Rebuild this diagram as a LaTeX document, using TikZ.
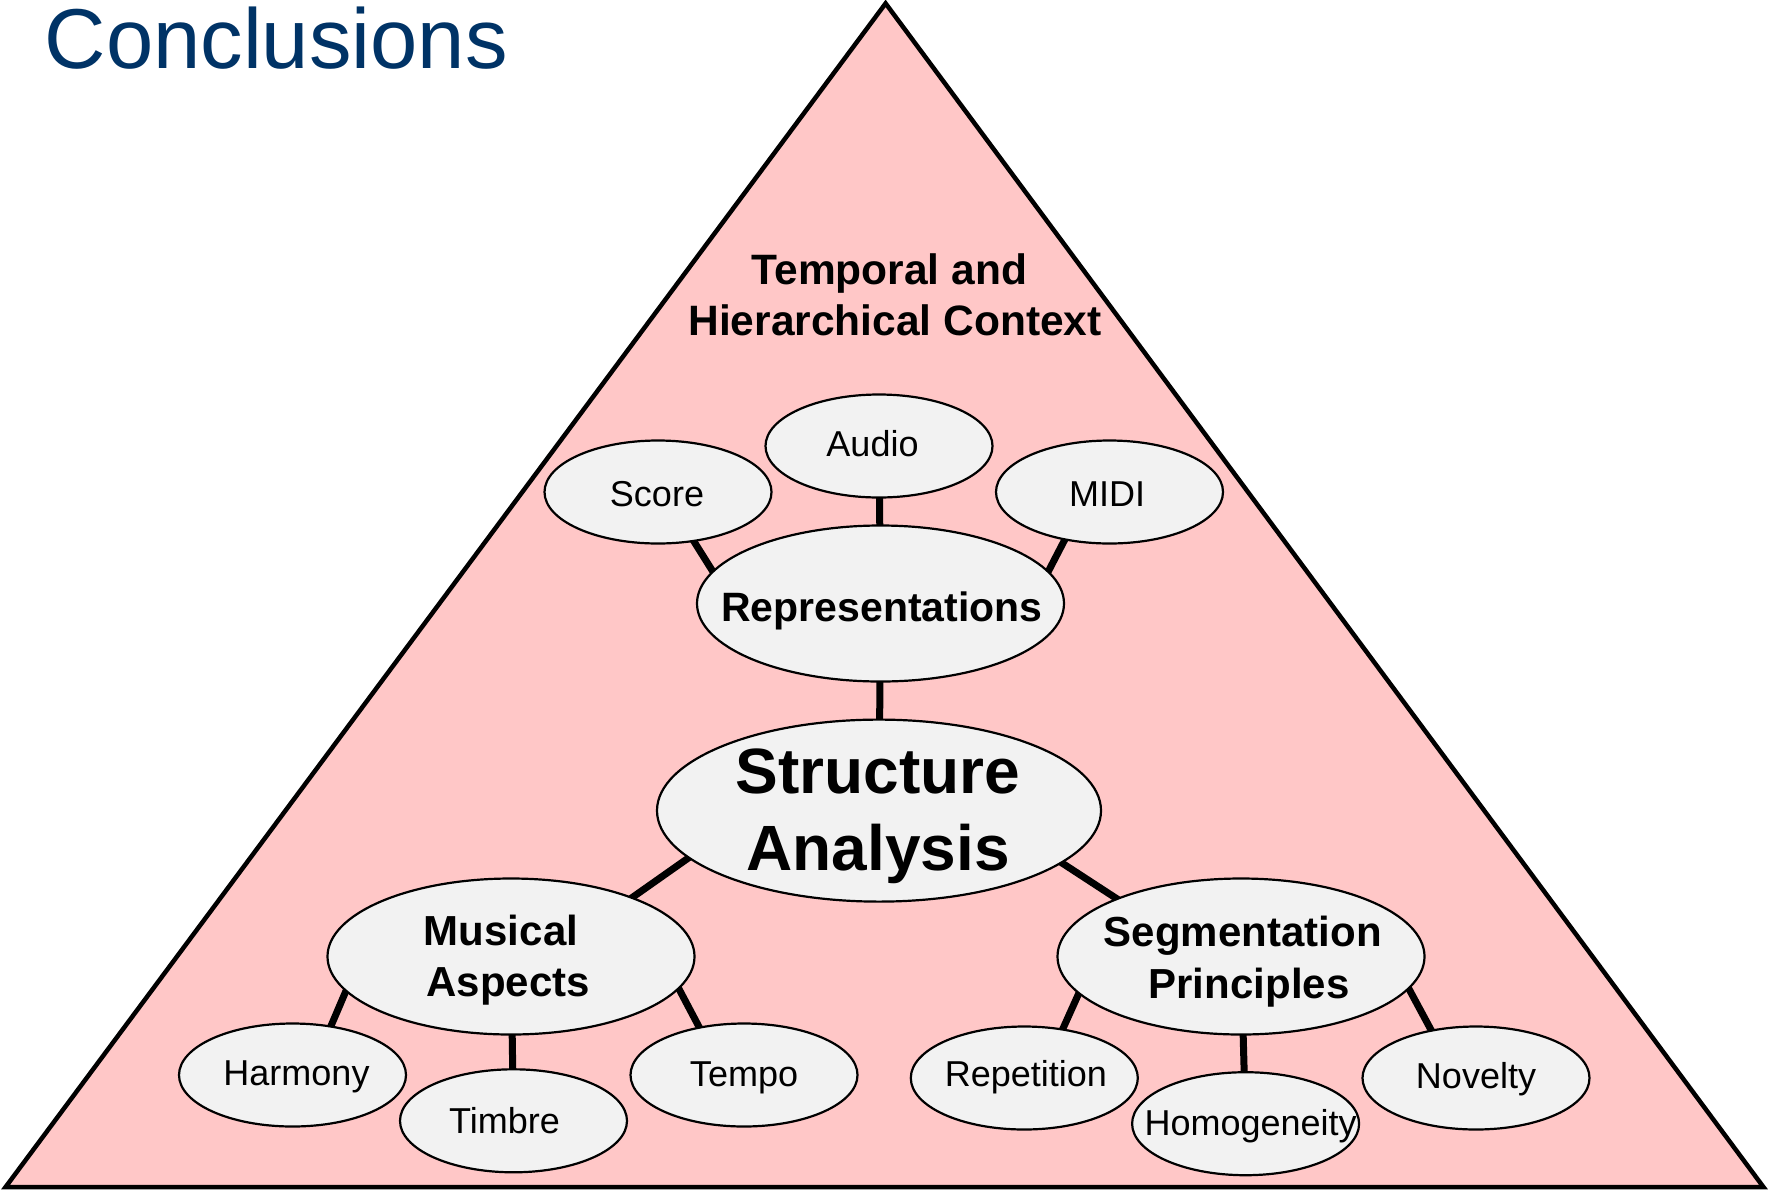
\documentclass[tikz,border=0pt]{standalone}
\usepackage{fontspec}
\setmainfont{Liberation Sans}
\usetikzlibrary{shapes.geometric}
\pgfdeclarelayer{bg}
\pgfdeclarelayer{lines}
\pgfsetlayers{bg,lines,main}
\definecolor{pinkfill}{RGB}{255,199,199}
\definecolor{ellfill}{RGB}{242,242,242}
\definecolor{titleblue}{RGB}{0,51,102}
\newcommand\shx[3]{\makebox[0pt]{\kern#1\relax\raisebox{#2}{#3}\kern-#1\relax}}
\begin{document}
\begin{tikzpicture}[x=1pt,y=-1pt,
  ell/.style={ellipse, draw=black, line width=2.2pt, fill=ellfill, inner sep=0pt},
  smallell/.style={ell, minimum width=227pt, minimum height=103pt,
    font=\fontsize{36}{41}\selectfont, text height=25.8pt, text depth=5.4pt},
  midell/.style={ell, minimum width=367pt, minimum height=156pt},
  bigell/.style={ell, minimum width=444pt, minimum height=182pt},
  boldtxt/.style={inner sep=0pt, align=center},
  link/.style={line width=7pt, shorten <=-4pt, shorten >=-4pt},
]
\useasboundingbox (0,0) rectangle (1769,1192);

\begin{pgfonlayer}{bg}
\fill[white] (0,0) rectangle (1769,1192);
\draw[line width=4.5pt, fill=pinkfill, line join=miter]
  (885.6,3.4) -- (5.6,1187) -- (1763.4,1187) -- cycle;
\end{pgfonlayer}

\node[anchor=base west, inner sep=0pt, text=titleblue,
  font=\fontsize{85}{100}\selectfont] (title) at (44.5,68) {Conclusions};

\node[boldtxt, font=\bfseries\fontsize{42.5}{50.5}\selectfont] (ctx) at (891,294.8)
  {Temporal and\kern3.4pt\\\kern8pt Hierarchical Context};

\node[smallell] (audio) at (879,446) {\shx{-6.5pt}{0pt}{Audio}};
\node[smallell] (score) at (658,492) {\shx{-1pt}{-4.5pt}{Score}};
\node[smallell] (midi) at (1109.5,492) {\shx{-2.5pt}{-4.5pt}{MIDI}};
\node[midell, font=\bfseries\fontsize{41}{47}\selectfont, text height=29.4pt, text depth=0pt]
  (rep) at (880.5,603.5) {\shx{1.5pt}{-3.4pt}{Representations}};
\node[bigell] (sa) at (879,810.6) {};
\node[midell] (ma) at (511,956.5) {};
\node[midell] (sp) at (1241,956.5) {};
\node[smallell] (harmony) at (292.5,1075) {\shx{4pt}{0pt}{Harmony}};
\node[smallell] (timbre) at (513.5,1120.8) {\shx{-9pt}{-2pt}{Timbre}};
\node[smallell] (tempo) at (744,1075) {\shx{0pt}{-1pt}{Tempo}};
\node[smallell] (rept) at (1024.3,1078) {\shx{1.5pt}{2pt}{Repetition}};
\node[smallell] (homog) at (1245.6,1123.7) {\shx{5pt}{-2pt}{Homogeneity}};
\node[smallell] (novelty) at (1476,1078) {\shx{0pt}{0pt}{Novelty}};

\node[boldtxt, font=\bfseries\fontsize{64}{77.5}\selectfont] (saT) at (878,816.5) {Structure\\Analysis};
\node[boldtxt, font=\bfseries\fontsize{42}{51}\selectfont] (maT) at (505.5,960.5)
  {Musical\kern9pt\\\kern5.6pt Aspects};
\node[boldtxt, font=\bfseries\fontsize{42}{51.5}\selectfont] (spT) at (1249,961.5)
  {Segmentation\kern12.4pt\\Principles};

\begin{pgfonlayer}{lines}
\draw[link] (score.-54) -- (rep.169);
\draw[link] (audio) -- (rep);
\draw[link] (midi.227) -- (rep.11);
\draw[link] (rep) -- (sa);
\draw[link] (sa.194) -- (ma.26);
\draw[link] (sa.-16) -- (sp.155);
\draw[link] (ma.192) -- (harmony.52);
\draw[link] (ma) -- (timbre);
\draw[link] (ma.-11) -- (tempo.133);
\draw[link] (sp.193) -- (rept.52);
\draw[link] (sp) -- (homog);
\draw[link] (sp.-11) -- (novelty.133);
\end{pgfonlayer}
\end{tikzpicture}
\end{document}
